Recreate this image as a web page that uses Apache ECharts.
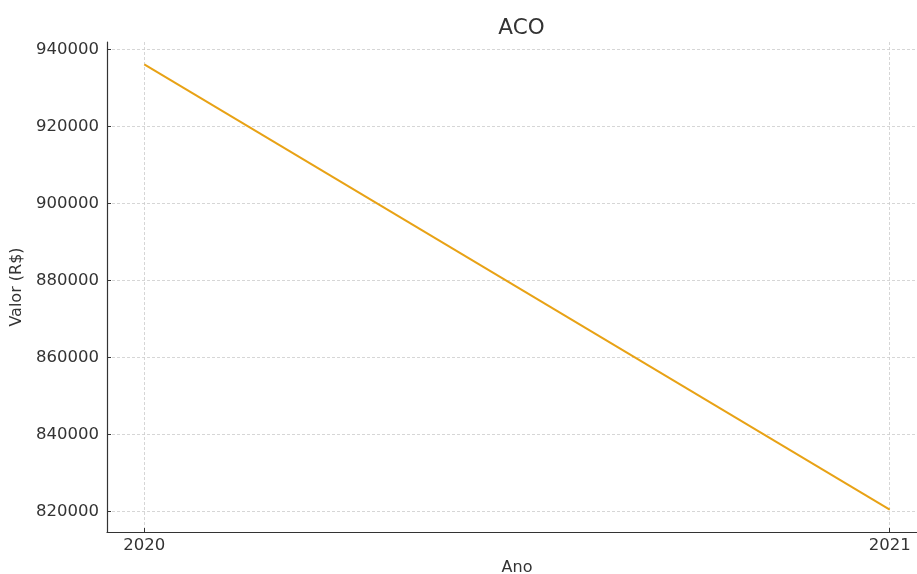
<!DOCTYPE html>
<html><head><meta charset="utf-8">
<script src="https://cdn.jsdelivr.net/npm/echarts@6/dist/echarts.min.js"></script>
<style>html,body{margin:0;padding:0;background:#fff}#c{width:917px;height:574px}</style>
</head><body><div id="c"></div>
<script>
const years = [2020, 2021];
const values = [936200, 820400];
const yTicks = [820000, 840000, 860000, 880000, 900000, 920000, 940000];
const xTicks = [2020, 2021];

const chart = echarts.init(document.getElementById('c'), null, {renderer: 'canvas'});
const font = 'DejaVu Sans';
chart.setOption({
  animation: false,
  title: {text: 'ACO', left: 516.5, top: 12, textAlign: 'center',
    textStyle: {fontFamily: font, fontSize: 21.5, fontWeight: 'normal', color: '#333'}},
  grid: {left: 107, right: -10, top: 42, bottom: 42, containLabel: false, outerBoundsMode: 'none'},
  xAxis: {
    type: 'value', min: 2019.95, max: 2021.05,
    name: 'Ano', nameLocation: 'middle', nameGap: 28,
    nameTextStyle: {fontFamily: font, fontSize: 16, color: '#333'},
    axisLine: {show: true, lineStyle: {color: '#333', width: 1.2}},
    axisTick: {show: true, inside: true, customValues: xTicks, length: 4, lineStyle: {color: '#333'}},
    axisLabel: {customValues: xTicks, fontFamily: font, fontSize: 16.5, color: '#333', margin: 5,
      formatter: v => String(Math.round(v))},
    splitLine: {show: true, lineStyle: {color: '#cccccc', type: [3, 2], width: 0.8}}
  },
  yAxis: {
    type: 'value', min: 814610, max: 941990,
    name: 'Valor (R$)', nameLocation: 'middle', nameGap: 80, nameRotate: 90,
    nameTextStyle: {fontFamily: font, fontSize: 16, color: '#333'},
    axisLine: {show: true, lineStyle: {color: '#333', width: 1.2}},
    axisTick: {show: true, inside: true, customValues: yTicks, length: 4, lineStyle: {color: '#333'}},
    axisLabel: {customValues: yTicks, fontFamily: font, fontSize: 16.5, color: '#333', margin: 8,
      formatter: v => String(Math.round(v))},
    splitLine: {show: true, lineStyle: {color: '#cccccc', type: [3, 2], width: 0.8}}
  },
  series: [{
    type: 'line', data: years.map((y, i) => [y, values[i]]),
    symbol: 'none', lineStyle: {color: '#E8A215', width: 2}
  }]
});
</script></body></html>
